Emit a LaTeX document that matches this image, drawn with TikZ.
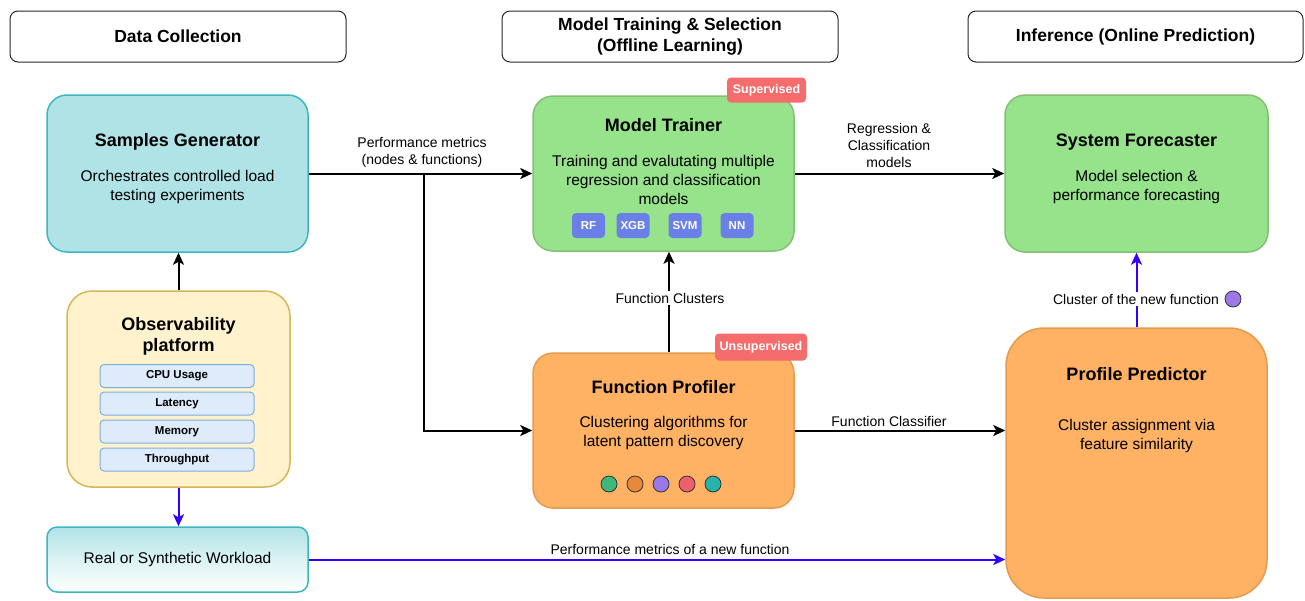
\documentclass[tikz,border=0pt]{standalone}
\usepackage{fontspec}
\setmainfont{Liberation Sans}
\usetikzlibrary{arrows.meta}
\definecolor{tealfill}{HTML}{B0E3E6}
\definecolor{tealline}{HTML}{3DB5C3}
\definecolor{greenfill}{HTML}{96E38C}
\definecolor{greenline}{HTML}{82C172}
\definecolor{orangefill}{HTML}{FFB164}
\definecolor{orangeline}{HTML}{E59A4E}
\definecolor{yelfill}{HTML}{FFF2CC}
\definecolor{yelline}{HTML}{D6B656}
\definecolor{subfill}{HTML}{DDEBFA}
\definecolor{subline}{HTML}{7EAEE0}
\definecolor{algfill}{HTML}{6B80E6}
\definecolor{badgefill}{HTML}{F46C6C}
\definecolor{flowblue}{HTML}{3300FF}
\definecolor{cgreen}{HTML}{3DB87A}
\definecolor{corange}{HTML}{E8883A}
\definecolor{cpurple}{HTML}{9B78E6}
\definecolor{cred}{HTML}{EE5F6C}
\definecolor{cteal}{HTML}{27B3AB}
\begin{document}
\begin{tikzpicture}[x=1pt,y=-1pt,
  header/.style={rectangle, draw=black!85, line width=1pt, rounded corners=8pt,
    minimum width=336pt, minimum height=51pt, align=center, inner sep=0pt,
    font=\bfseries\fontsize{17.5}{21}\selectfont},
  card/.style={rectangle, line width=1.5pt, rounded corners=20pt, inner sep=0pt},
  ttl/.style={font=\bfseries\fontsize{18}{21}\selectfont, align=center, inner sep=0pt},
  bodytext/.style={font=\fontsize{15.5}{19}\selectfont, align=center, inner sep=0pt},
  lbl/.style={font=\fontsize{14}{17}\selectfont, align=center, fill=white, inner sep=1.5pt},
  subitem/.style={rectangle, draw=subline, fill=subfill, line width=1pt, rounded corners=4pt,
    minimum width=154pt, minimum height=23pt, inner sep=0pt,
    font=\bfseries\fontsize{11.5}{13}\selectfont},
  alg/.style={rectangle, fill=algfill, rounded corners=4pt, minimum width=33pt,
    minimum height=25pt, inner sep=0pt, text=white,
    font=\bfseries\fontsize{11.5}{13}\selectfont},
  badge/.style={rectangle, fill=badgefill, rounded corners=4pt, minimum height=25pt,
    inner sep=0pt, text=white, font=\bfseries\fontsize{12.5}{14}\selectfont},
  dot/.style={circle, draw=black!80, line width=0.8pt, minimum size=16pt, inner sep=0pt},
  arr/.style={line width=2pt, -{Stealth[length=12pt,width=11pt,inset=3pt]}},
  barr/.style={arr, draw=flowblue, color=flowblue}
]
\useasboundingbox (0,0) rectangle (1305,600);

% headers
\node[header] (h1) at (178,36.5) {Data Collection};
\node[header] (h2) at (670,36.5) {Model Training \& Selection\\(Offline Learning)};
\node[header, minimum width=335pt] (h3) at (1135.5,36.5) {Inference (Online Prediction)};

% Samples Generator
\node[card, fill=tealfill, draw=tealline, minimum width=261pt, minimum height=157pt] (sg) at (177.5,173.5) {};
\node[ttl] (sgt) at (177.5,142) {Samples Generator};
\node[bodytext] (sgb) at (177.5,187) {Orchestrates controlled load\\testing experiments};

% Observability platform
\node[card, rounded corners=25pt, fill=yelfill, draw=yelline, minimum width=223pt, minimum height=196pt] (obs) at (178.5,389) {};
\node[ttl] (obst) at (178.5,336.5) {Observability\\platform};
\node[subitem] (cpu) at (177,376) {CPU Usage};
\node[subitem] (lat) at (177,403.5) {Latency};
\node[subitem] (mem) at (177,431.5) {Memory};
\node[subitem] (thr) at (177,459.5) {Throughput};

% Workload
\node[card, rounded corners=10pt, top color=tealfill, bottom color=white, middle color=tealfill!45, draw=tealline,
  minimum width=261pt, minimum height=65pt, font=\fontsize{15.5}{19}\selectfont] (wl) at (177.5,559.5) {Real or Synthetic Workload};

% Model Trainer
\node[card, fill=greenfill, draw=greenline, minimum width=261pt, minimum height=155pt] (mt) at (663.5,173.5) {};
\node[ttl] (mtt) at (663.5,125) {Model Trainer};
\node[bodytext] (mtb) at (663.5,179.5) {Training and evalutating multiple\\regression and classification\\models};
\node[alg] (rf) at (588.5,225.5) {RF};
\node[alg] (xgb) at (633,225.5) {XGB};
\node[alg] (svm) at (685,225.5) {SVM};
\node[alg] (nn) at (737,225.5) {NN};
\node[badge, minimum width=79pt] (sup) at (766.5,90) {Supervised};

% Function Profiler
\node[card, fill=orangefill, draw=orangeline, minimum width=261pt, minimum height=155pt] (fp) at (663.5,430.5) {};
\node[ttl] (fpt) at (663.5,387) {Function Profiler};
\node[bodytext] (fpb) at (663.5,432.5) {Clustering algorithms for\\latent pattern discovery};
\node[dot, fill=cgreen] (c1) at (609,484) {};
\node[dot, fill=corange] (c2) at (635,484) {};
\node[dot, fill=cpurple] (c3) at (661,484) {};
\node[dot, fill=cred] (c4) at (687,484) {};
\node[dot, fill=cteal] (c5) at (713,484) {};
\node[badge, minimum width=92pt, minimum height=27pt] (unsup) at (761,347) {Unsupervised};

% System Forecaster
\node[card, fill=greenfill, draw=greenline, minimum width=263pt, minimum height=157pt] (sf) at (1136.5,173.5) {};
\node[ttl] (sft) at (1136.5,142) {System Forecaster};
\node[bodytext] (sfb) at (1136.5,187) {Model selection \&\\performance forecasting};

% Profile Predictor
\node[card, rounded corners=38pt, fill=orangefill, draw=orangeline, minimum width=261pt, minimum height=270pt] (pp) at (1136.5,463) {};
\node[ttl] (ppt) at (1136.5,374) {Profile Predictor};
\node[bodytext] (ppb) at (1136.5,436) {Cluster assignment via\\feature similarity};

% connectors
\coordinate (split) at (424,173.5);
\coordinate (fcx) at (669,0);
\draw[arr] (sg.east) -- (mt.west);
\draw[arr] (split) |- (fp.west);
\draw[arr] (mt.east) -- (sf.west);
\draw[arr] (fp.north -| fcx) -- (mt.south -| fcx);
\draw[arr] (fp.east) -- (fp.east -| pp.west);
\draw[arr] (obs.north) -- (obs.north |- sg.south);
\draw[barr] (obs.south) -- (obs.south |- wl.north);
\draw[barr] (wl.east) -- (wl.east -| pp.west);
\draw[barr] (pp.north) -- (sf.south);

% labels
\node[lbl] (l1) at (422,152.5) {Performance metrics\\(nodes \& functions)};
\node[lbl] (l2) at (889,145) {Regression \&\\Classification\\models};
\node[lbl] (l3) at (670,298) {Function Clusters};
\node[lbl] (l4) at (889,421) {Function Classifier};
\node[lbl] (l5) at (670,549) {Performance metrics of a new function};
\node[lbl] (l6) at (1136,299) {Cluster of the new function};
\node[dot, fill=cpurple] (c6) at (1233,299) {};
\end{tikzpicture}
\end{document}
